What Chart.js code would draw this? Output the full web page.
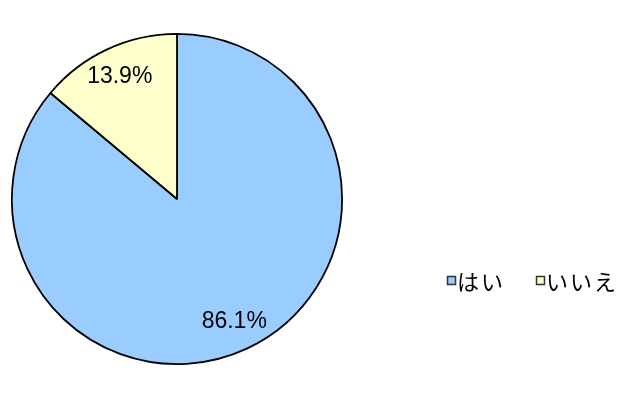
<!DOCTYPE html>
<html>
<head>
<meta charset="utf-8">
<script src="https://cdn.jsdelivr.net/npm/chart.js@4/dist/chart.umd.min.js"></script>
<style>
    html, body { margin: 0; padding: 0; background: #ffffff; }
    #wrap { width: 640px; height: 401px; }
</style>
</head>
<body>
<div id="wrap"><canvas id="pieChart" width="640" height="401"></canvas></div>
<script>
// Chart data
const categories = ['はい', 'いいえ'];
const shares = [86.1, 13.9];
const sliceColors = ['#99ccff', '#ffffcc'];

// Percent labels inside slices + legend on the right
const labelPlugin = {
    id: 'labelPlugin',
    afterDraw(chart) {
        const ctx = chart.ctx;
        const meta = chart.getDatasetMeta(0);
        ctx.save();
        ctx.fillStyle = '#000000';
        ctx.textAlign = 'center';
        ctx.textBaseline = 'middle';
        ctx.font = '23px "Liberation Sans", Arial, sans-serif';
        meta.data.forEach((arc, i) => {
            const p = arc.getProps(['x', 'y', 'startAngle', 'endAngle', 'outerRadius'], true);
            const mid = (p.startAngle + p.endAngle) / 2;
            const r = p.outerRadius * 0.82;
            ctx.fillText(shares[i].toFixed(1) + '%', p.x + Math.cos(mid) * r, p.y + Math.sin(mid) * r);
        });

        // legend
        ctx.textAlign = 'left';
        ctx.font = '22px "Noto Sans CJK JP", sans-serif';
        ctx.letterSpacing = '2px';
        const legendX = [447, 536];
        categories.forEach((name, i) => {
            ctx.fillStyle = sliceColors[i];
            ctx.fillRect(legendX[i], 276, 9, 9);
            ctx.strokeStyle = '#333333';
            ctx.lineWidth = 1.5;
            ctx.strokeRect(legendX[i] + 0.5, 276.5, 8, 8);
            ctx.fillStyle = '#000000';
            ctx.fillText(name, legendX[i] + 10, 282);
        });
        ctx.restore();
    }
};

const pieChart = new Chart(document.getElementById('pieChart'), {
    type: 'pie',
    data: {
        labels: categories,
        datasets: [{
            data: shares,
            backgroundColor: sliceColors,
            borderColor: '#000000',
            borderWidth: 1.8
        }]
    },
    options: {
        responsive: false,
        animation: false,
        layout: {
            padding: { left: 11, top: 33, right: 297, bottom: 36 }
        },
        plugins: {
            legend: { display: false },
            tooltip: { enabled: false }
        }
    },
    plugins: [labelPlugin]
});
</script>
</body>
</html>
